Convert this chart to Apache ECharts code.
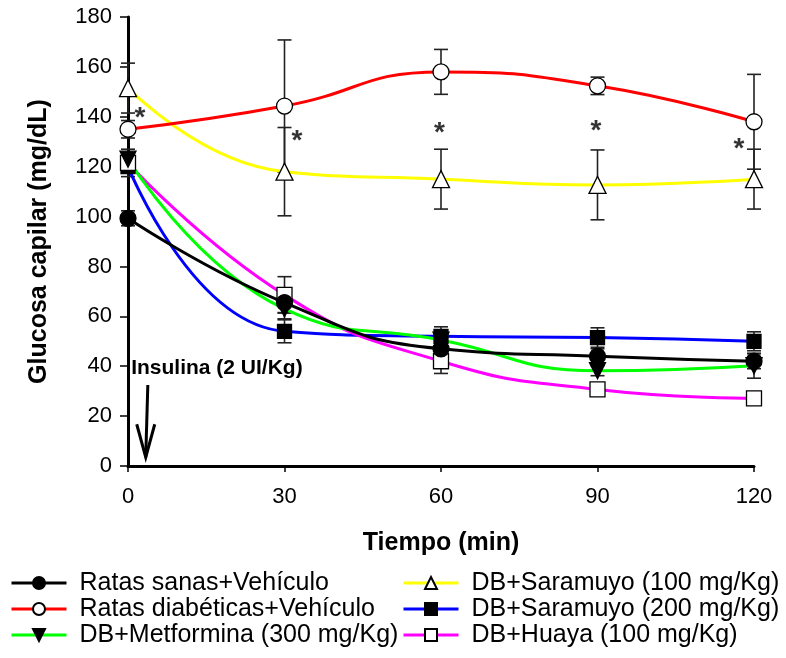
<!DOCTYPE html>
<html><head><meta charset="utf-8">
<script src="https://cdn.jsdelivr.net/npm/echarts@6/dist/echarts.min.js"></script>
<style>html,body{margin:0;padding:0;background:#fff}#c{width:786px;height:658px}</style>
</head><body><div id="c"></div>
<script>
// ---- data ----
const times = [0, 30, 60, 90, 120];
const yTicks = [0, 20, 40, 60, 80, 100, 120, 140, 160, 180];
const seriesNames = ['Ratas sanas+Vehículo', 'Ratas diabéticas+Vehículo', 'DB+Metformina (300 mg/Kg)',
  'DB+Saramuyo (100 mg/Kg)', 'DB+Saramuyo (200 mg/Kg)', 'DB+Huaya (100 mg/Kg)'];
const sanas = [99.3, 65.5, 47, 44, 42];
const sanasErr = [3, 4, 3, 3, 3];
const diabeticas = [135, 144.3, 158, 152.4, 138];
const diabeticasErr = [3.5, 26.5, 9, 3.5, 19];
const metformina = [123, 63, 50.5, 38.2, 40.2];
const metforminaErr = [4, 4, 3, 2, 5];
const saramuyo100 = [151.5, 118, 115, 112.7, 115];
const saramuyo100Err = [10, 17.7, 12, 14, 12];
const saramuyo200 = [120, 54, 52, 51.5, 50];
const saramuyo200Err = [4, 4.6, 3.8, 3.9, 3.8];
const huaya = [121.5, 68.6, 42, 30.7, 27.1];
const huayaErr = [4, 7.3, 4.9, 2, 2];
// significance asterisks (time, glucose)
const asteriskX = [2.3, 32.4, 59.7, 89.7, 117.1];
const asteriskY = [142.7, 133.5, 136.7, 137.5, 130];
// insulin annotation
const insulinaText = 'Insulina (2 UI/Kg)';
const insulinaTextPos = [0.6, 38.5];
const arrowFrom = [3.8, 32.5];
const arrowTo = [3.4, 3.5];

const FONT = '"Liberation Sans", Arial, sans-serif';

const chart = echarts.init(document.getElementById('c'), null, {renderer: 'canvas'});

function lineSeries(name, vals, color, symbol, fill, rotate, size) {
  return {
    name, type: 'line', smooth: 0.5, z: 3,
    data: times.map((t, i) => [t, vals[i]]),
    lineStyle: {color, width: 3},
    itemStyle: {color: fill, borderColor: '#000', borderWidth: 1.3},
    symbol, symbolSize: size, symbolRotate: rotate || 0,
    showSymbol: true, emphasis: {disabled: true}
  };
}
function errSeries(vals, errs) {
  return {
    type: 'custom', z: 2, silent: true,
    data: times.map((t, i) => [t, vals[i] - errs[i], vals[i] + errs[i]]),
    encode: {x: 0, y: [1, 2]},
    renderItem: function (params, api) {
      const x = api.value(0);
      const pLo = api.coord([x, api.value(1)]);
      const pHi = api.coord([x, api.value(2)]);
      const w = 7;
      const style = {stroke: '#222', lineWidth: 1.6, fill: null};
      return {type: 'group', children: [
        {type: 'line', shape: {x1: pLo[0], y1: pLo[1], x2: pHi[0], y2: pHi[1]}, style},
        {type: 'line', shape: {x1: pLo[0] - w, y1: pLo[1], x2: pLo[0] + w, y2: pLo[1]}, style},
        {type: 'line', shape: {x1: pHi[0] - w, y1: pHi[1], x2: pHi[0] + w, y2: pHi[1]}, style}
      ]};
    }
  };
}

const legendText = {fontFamily: FONT, fontSize: 25, lineHeight: 26, color: '#000', padding: [0, 0, 0, 8]};
const legendCommon = {orient: 'vertical', top: 565, height: 90, itemWidth: 55, itemHeight: 15, itemGap: 0,
  textStyle: legendText, selectedMode: false, lineStyle: {width: 3}};
const option = {
  animation: false,
  backgroundColor: '#fff',
  grid: {left: 128, right: 32, top: 17, bottom: 192, containLabel: false},
  xAxis: {
    type: 'value', min: 0, max: 120, interval: 30,
    name: 'Tiempo (min)', nameLocation: 'middle', nameGap: 65,
    nameTextStyle: {fontFamily: FONT, fontSize: 25, fontWeight: 'bold', color: '#000'},
    axisLine: {lineStyle: {color: '#000', width: 3}},
    axisTick: {show: true, length: 6, lineStyle: {color: '#000', width: 1.5}},
    axisLabel: {fontFamily: FONT, fontSize: 22, color: '#000', margin: 20},
    splitLine: {show: false}
  },
  yAxis: {
    type: 'value', min: 0, max: 180, interval: 20,
    name: 'Glucosa capilar (mg/dL)', nameLocation: 'middle', nameGap: 76,
    nameTextStyle: {fontFamily: FONT, fontSize: 25, fontWeight: 'bold', color: '#000'},
    axisLine: {show: true, lineStyle: {color: '#000', width: 3}},
    axisTick: {show: true, length: 8, lineStyle: {color: '#000', width: 1.5}},
    axisLabel: {fontFamily: FONT, fontSize: 22, color: '#000', margin: 16,
      formatter: v => yTicks.includes(v) ? String(v) : ''},
    splitLine: {show: false}
  },
  legend: [
    Object.assign({data: seriesNames.slice(0, 3), left: 5}, legendCommon),
    Object.assign({data: seriesNames.slice(3), left: 397}, legendCommon)
  ],
  series: [
    errSeries(sanas, sanasErr),
    errSeries(diabeticas, diabeticasErr),
    errSeries(metformina, metforminaErr),
    errSeries(saramuyo100, saramuyo100Err),
    errSeries(saramuyo200, saramuyo200Err),
    errSeries(huaya, huayaErr),
    lineSeries(seriesNames[4], saramuyo200, '#0000ff', 'rect', '#000', 0, 14),
    lineSeries(seriesNames[5], huaya, '#ff00ff', 'rect', '#fff', 0, 15),
    lineSeries(seriesNames[3], saramuyo100, '#ffff00', 'triangle', '#fff', 0, 17),
    lineSeries(seriesNames[2], metformina, '#00ff00', 'triangle', '#000', 180, 16),
    lineSeries(seriesNames[1], diabeticas, '#ff0000', 'circle', '#fff', 0, 16),
    lineSeries(seriesNames[0], sanas, '#000000', 'circle', '#000', 0, 16),
    {
      type: 'scatter', z: 5, silent: true,
      data: asteriskX.map((x, i) => [x, asteriskY[i]]),
      symbol: 'circle', symbolSize: 0,
      label: {show: true, position: 'inside', formatter: '*', fontFamily: FONT,
        fontSize: 28, fontWeight: 'bold', color: '#000', offset: [0, 8]}
    }
  ]
};
chart.setOption(option);

const tp = chart.convertToPixel({gridIndex: 0}, insulinaTextPos);
const a0 = chart.convertToPixel({gridIndex: 0}, arrowFrom);
const a1 = chart.convertToPixel({gridIndex: 0}, arrowTo);
chart.setOption({
  graphic: [
    {type: 'text', left: tp[0], top: tp[1] - 12, z: 10,
     style: {text: insulinaText, fontFamily: FONT, fontSize: 21, fontWeight: 'bold', fill: '#000'}},
    {type: 'line', z: 10, shape: {x1: a0[0], y1: a0[1], x2: a1[0], y2: a1[1]},
     style: {stroke: '#000', lineWidth: 3}},
    {type: 'polyline', z: 10, shape: {points: [[a1[0] - 9, a1[1] - 33], [a1[0], a1[1]], [a1[0] + 9, a1[1] - 33]]},
     style: {stroke: '#000', lineWidth: 3, fill: null}}
  ]
});
</script></body></html>
